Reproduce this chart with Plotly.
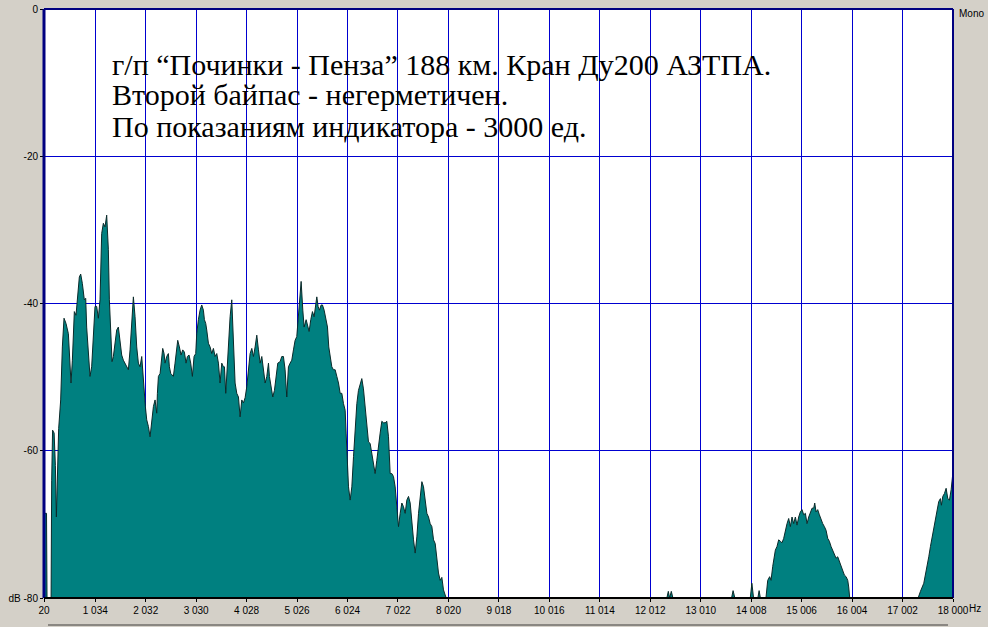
import plotly.graph_objects as go

# ---- data ----
FREQ_HZ = [
    20, 70, 80, 160, 172, 190, 220, 245, 265, 285, 310, 350, 383, 416, 455, 502, 535, 554, 581,
    620, 653, 680, 719, 746, 779, 818, 845, 864, 897, 930, 963, 996, 1029, 1062, 1095, 1128,
    1161, 1194, 1227, 1260, 1293, 1313, 1339, 1366, 1392, 1425, 1458, 1491, 1524, 1557, 1590,
    1623, 1656, 1689, 1722, 1755, 1788, 1821, 1854, 1887, 1920, 1953, 1973, 1999, 2025, 2052,
    2085, 2118, 2151, 2184, 2217, 2250, 2263, 2283, 2316, 2349, 2368, 2395, 2414, 2447, 2480,
    2500, 2527, 2553, 2579, 2612, 2645, 2665, 2698, 2731, 2764, 2797, 2830, 2856, 2889, 2922,
    2955, 2988, 3021, 3041, 3074, 3107, 3140, 3173, 3193, 3219, 3239, 3272, 3305, 3338, 3371,
    3404, 3437, 3470, 3503, 3536, 3569, 3589, 3615, 3635, 3668, 3701, 3734,
    3767, 3800, 3833, 3866, 3899, 3932, 3965, 3998, 4031, 4064, 4097, 4130, 4163, 4196, 4229,
    4262, 4295, 4328, 4361, 4394, 4427, 4460, 4479, 4506, 4545, 4578, 4611, 4644, 4690, 4723,
    4756, 4789, 4822, 4855, 4888, 4921, 4954, 4987, 5020, 5053, 5086, 5106, 5139, 5165, 5205,
    5231, 5264, 5297, 5330, 5363, 5396, 5416, 5442, 5469, 5502, 5528, 5561, 5594, 5627, 5653,
    5680, 5713, 5746, 5779, 5812, 5845, 5878, 5911, 5944, 5977, 5996, 6023, 6043, 6076, 6109,
    6142, 6175, 6208, 6240, 6273, 6306, 6339, 6372, 6405, 6438, 6471, 6504, 6537, 6570, 6603,
    6636, 6669, 6702, 6735, 6768, 6801, 6834, 6867, 6900, 6933, 6966, 6999, 7032, 7065, 7098,
    7131, 7164, 7197, 7230, 7263, 7296, 7329, 7362, 7395, 7428, 7461, 7494, 7527, 7560, 7593,
    7626, 7659, 7692, 7725, 7758, 7791, 7823, 7856, 7889, 7922, 7955, 7975,
    12340, 12369, 12395, 12428, 12460, 13620, 13650, 13685, 13990, 14022, 14055, 14140, 14165,
    14190, 14300, 14335, 14374, 14401, 14434, 14467, 14486, 14519, 14552, 14585, 14618, 14651,
    14684, 14717, 14750, 14783, 14816, 14849, 14882, 14915, 14948, 14981, 15014, 15047, 15080,
    15113, 15146, 15179, 15212, 15245, 15265, 15291, 15324, 15357, 15390, 15423, 15456, 15489,
    15522, 15555, 15588, 15621, 15654, 15687, 15720, 15753, 15786, 15819, 15852, 15885, 15918,
    15937, 15957,
    17310, 17323, 17356, 17422, 17455, 17488, 17521, 17554, 17587, 17620, 17652, 17685, 17718,
    17751, 17771, 17798, 17831, 17864, 17897, 17930, 17963, 17996, 18000,
]

LEVEL_DB = [
    -68.5, -68.5, -80, -80, -64.0, -57.2, -57.6, -62.0, -69.0, -62.0, -57.0, -53.1, -45.9, -42.0,
    -42.7, -44.1, -49.0, -50.8, -47.7,
    -41.1, -41.6, -39.5, -36.4, -36.0, -37.3, -39.5, -39.3, -43.2, -46.3, -49.9, -48.6, -44.1,
    -40.4, -40.4, -42.0, -39.5,
    -30.5, -29.1, -29.6, -28.0, -32.7, -39.5, -44.1, -47.9, -47.2, -45.0, -43.6, -43.2, -45.0,
    -47.0, -47.7,
    -48.1, -48.6, -49.0, -46.3, -41.8, -39.1, -41.8, -45.9, -48.1, -48.6, -47.2, -49.5, -52.2,
    -54.0, -55.8,
    -56.7, -58.1, -56.3, -54.0, -53.1, -54.9, -52.2, -49.9, -49.5, -47.2, -46.1, -46.8, -48.1,
    -47.2, -46.8,
    -48.6, -49.5, -49.7, -49.9, -48.1, -46.3, -45.0, -45.9, -47.0, -46.3, -46.6, -48.1, -47.2,
    -47.0, -48.1,
    -49.9, -47.2, -46.8, -44.1, -42.2, -40.9, -40.2, -40.9, -42.2, -42.7, -43.6, -45.4, -45.9,
    -46.8, -46.1,
    -47.2, -46.8, -48.1, -50.8, -48.1, -48.6, -48.6, -52.2, -49.5, -46.3, -41.8, -39.5,
    -45.4, -50.8, -52.2, -52.7, -55.4, -53.1, -53.5, -52.8, -51.3, -49.0, -46.8, -46.1, -47.2,
    -45.9, -44.3,
    -46.3, -48.1, -47.2, -49.0, -50.8, -49.9, -48.1, -49.9, -51.3, -52.7, -51.8, -49.9, -48.1,
    -47.9, -47.2,
    -47.2, -49.0, -52.7, -48.6, -48.1, -47.7, -46.3, -45.0, -44.5, -41.3, -38.6, -37.0, -40.9,
    -43.2, -42.2,
    -42.9, -43.8, -42.2, -41.1, -41.8, -40.2, -39.1, -40.4, -40.9, -40.2, -40.2, -40.9, -42.0,
    -43.2, -45.9,
    -47.2, -48.6, -49.0, -49.0, -49.9, -50.8, -52.2, -52.2, -53.6, -54.5, -57.6, -61.3, -64.9,
    -66.7, -64.9,
    -60.8, -56.7, -53.6, -51.8, -50.8, -50.2, -51.6, -54.0, -56.7, -58.8, -59.0, -60.3, -61.7,
    -63.1, -61.3,
    -59.0, -57.6, -56.0, -56.2, -56.2, -56.0, -58.1, -63.1, -63.1, -63.5, -64.9, -67.6, -70.3,
    -68.5, -67.1,
    -67.6, -68.5, -66.7, -66.2, -67.1, -69.9, -72.1, -73.9, -71.7, -68.5, -65.8, -64.2, -64.9,
    -66.7, -68.5,
    -69.0, -69.9, -70.3, -72.1, -72.6, -74.8, -76.6, -77.6, -77.2, -78.9, -79.8, -80,
    -80, -79.1, -80, -79.1, -80, -80, -79.0, -80, -80, -78.0, -80, -80, -79.0,
    -80, -80, -77.6, -77.1, -77.6, -75.7, -74.6, -73.5, -73.0, -72.1, -72.3, -72.5, -71.9,
    -70.8, -69.9, -69.2, -70.3, -69.0, -69.9, -69.0, -70.1, -69.0, -68.3, -68.0, -68.7, -68.5,
    -69.9, -69.0, -68.3, -67.8, -67.8, -67.1, -68.3, -68.0, -68.7, -69.4, -69.9, -70.3, -70.8,
    -71.9, -72.3, -73.0, -73.5, -74.2, -74.6, -74.4, -75.1, -75.7, -76.4, -76.9, -77.1, -77.6,
    -78.5, -80,
    -80, -79.8, -79.1, -78.0, -76.9, -75.7, -74.4, -73.0, -71.7, -70.3, -69.0, -68.0, -66.9,
    -66.5, -67.4, -66.2, -65.8, -65.1, -66.5, -66.7, -65.3, -63.1, -62.5,
]

X_TICK_VALUES = [20, 1034, 2032, 3030, 4028, 5026, 6024, 7022, 8020, 9018, 10016, 11014,
                 12012, 13010, 14008, 15006, 16004, 17002, 18000]
X_TICK_TEXT = ["20", "1 034", "2 032", "3 030", "4 028", "5 026", "6 024", "7 022", "8 020",
               "9 018", "10 016", "11 014", "12 012", "13 010", "14 008", "15 006", "16 004",
               "17 002", "18 000"]
Y_TICK_VALUES = [0, -20, -40, -60, -80]
Y_TICK_TEXT = ["0", "-20", "-40", "-60", "dB -80"]

TITLE_LINES = [
    "г/п “Починки - Пенза” 188 км. Кран Ду200 АЗТПА.",
    "Второй байпас - негерметичен.",
    "По показаниям индикатора - 3000 ед.",
]
TITLE_Y_DB = [-7.5, -11.6, -15.95]

X_MIN, X_MAX = 20, 18000
Y_MIN, Y_MAX = -80, 0

fig = go.Figure()
fig.add_trace(go.Scatter(x=[X_MIN, X_MAX], y=[Y_MIN, Y_MIN], mode="lines",
                         line=dict(width=0, color="rgba(0,0,0,0)"),
                         hoverinfo="skip", showlegend=False))
fig.add_trace(go.Scatter(x=FREQ_HZ, y=LEVEL_DB, mode="lines", fill="tonexty",
                         fillcolor="#008080", line=dict(color="#0a2a2a", width=1),
                         showlegend=False))

grid_blue = "#0000D0"
tick_font = dict(family="Liberation Sans, Arial, sans-serif", size=10, color="#000000")

fig.update_xaxes(range=[X_MIN, X_MAX], tickmode="array", tickvals=X_TICK_VALUES,
                 ticktext=X_TICK_TEXT, showgrid=True, gridcolor=grid_blue, gridwidth=1,
                 ticks="outside", ticklen=3, tickcolor="#000000", tickfont=tick_font,
                 zeroline=False, showline=False, fixedrange=True, automargin=False)
fig.update_yaxes(range=[Y_MIN, Y_MAX], tickmode="array", tickvals=Y_TICK_VALUES,
                 ticktext=Y_TICK_TEXT, showgrid=True, gridcolor=grid_blue, gridwidth=1,
                 ticks="outside", ticklen=3, tickcolor="#000000", tickfont=tick_font,
                 zeroline=False, showline=False, fixedrange=True, automargin=False)

annotations = []
for line_text, ydb in zip(TITLE_LINES, TITLE_Y_DB):
    annotations.append(dict(x=1330, y=ydb, xref="x", yref="y", text=line_text,
                            showarrow=False, xanchor="left", yanchor="middle",
                            font=dict(family="Liberation Serif, Times New Roman, serif",
                                      size=30, color="#000000")))
annotations.append(dict(x=1.004, y=0.992, xref="paper", yref="paper", text="Mono",
                        showarrow=False, xanchor="left", yanchor="middle", font=tick_font))
annotations.append(dict(x=1.015, y=-0.017, xref="paper", yref="paper", text="Hz",
                        showarrow=False, xanchor="left", yanchor="middle", font=tick_font))

shapes = [
    dict(type="line", xref="paper", yref="paper", x0=0, x1=0, y0=0, y1=1,
         line=dict(color="#000080", width=3), layer="above"),
    dict(type="line", xref="paper", yref="paper", x0=0, x1=1, y0=1, y1=1,
         line=dict(color="#000080", width=2), layer="above"),
    dict(type="line", xref="paper", yref="paper", x0=1, x1=1, y0=0, y1=1,
         line=dict(color="#000080", width=2), layer="above"),
    dict(type="line", xref="paper", yref="paper", x0=0, x1=1, y0=0, y1=0,
         line=dict(color="#000000", width=2), layer="above"),
    dict(type="line", xref="paper", yref="paper", x0=0.0044, x1=0.9945, y0=-0.046, y1=-0.046,
         line=dict(color="#8a8782", width=2), layer="above"),
]

fig.update_layout(width=988, height=627,
                  margin=dict(l=44, r=35, t=9, b=29, pad=0, autoexpand=False),
                  paper_bgcolor="#D4D0C8", plot_bgcolor="#FFFFFF",
                  annotations=annotations, shapes=shapes, showlegend=False,
                  hovermode=False)

fig.write_html(
    "out.html",
    config={"displayModeBar": False, "staticPlot": True},
    post_script=("document.body.style.margin='0';"
                 "document.body.style.padding='0';"
                 "document.body.style.overflow='hidden';"
                 "document.body.style.background='#D4D0C8';"),
)
